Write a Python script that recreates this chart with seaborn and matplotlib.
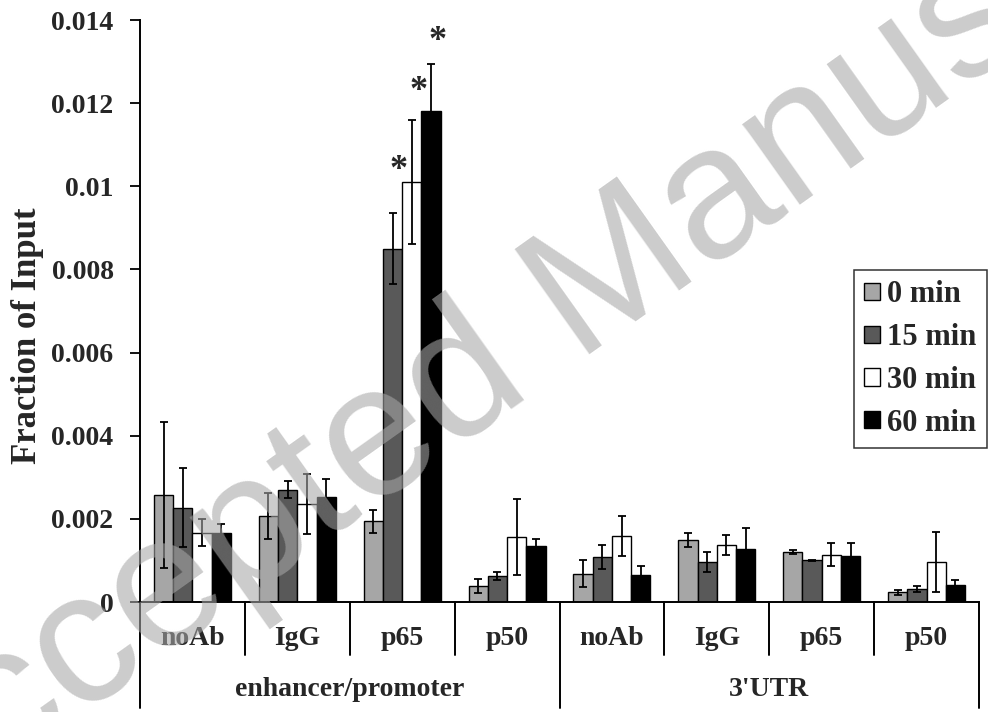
import matplotlib
matplotlib.use("Agg")
import matplotlib.pyplot as plt
import seaborn as sns
import pandas as pd

samples = ["noAb", "IgG", "p65", "p50", "noAb", "IgG", "p65", "p50"]
regions = ["enhancer/promoter"] * 4 + ["3'UTR"] * 4
times = ["0 min", "15 min", "30 min", "60 min"]

min0 = [0.00257, 0.00206, 0.00194, 0.00039, 0.00068, 0.00150, 0.00120, 0.00023]
min0_err = [0.00175, 0.00055, 0.00027, 0.00017, 0.00032, 0.00017, 0.00005, 0.00007]
min15 = [0.00227, 0.00270, 0.00850, 0.00063, 0.00108, 0.00096, 0.00100, 0.00032]
min15_err = [0.00095, 0.00021, 0.00085, 0.00010, 0.00029, 0.00025, 0.00002, 0.00007]
min30 = [0.00167, 0.00236, 0.01010, 0.00156, 0.00159, 0.00138, 0.00114, 0.00096]
min30_err = [0.00033, 0.00072, 0.00150, 0.00092, 0.00048, 0.00024, 0.00028, 0.00073]
min60 = [0.00167, 0.00253, 0.01180, 0.00134, 0.00065, 0.00127, 0.00111, 0.00041]
min60_err = [0.00021, 0.00043, 0.00115, 0.00017, 0.00022, 0.00052, 0.00030, 0.00013]

# significance stars: sample index, time index, height of the star
star_sample = [2, 2, 2]
star_time = [1, 2, 3]
star_y = [0.01037, 0.01227, 0.01348]

colors = ["#a6a6a6", "#595959", "#ffffff", "#000000"]

sns.set_theme(style="white")
plt.rcParams["font.family"] = ["Liberation Serif", "DejaVu Serif"]
plt.rcParams["font.weight"] = "bold"

keys = [r + "|" + s for r, s in zip(regions, samples)]
values = [min0, min15, min30, min60]
errors = [min0_err, min15_err, min30_err, min60_err]
rows = []
for t, vals in zip(times, values):
    for k, v in zip(keys, vals):
        rows.append((k, t, v))
df = pd.DataFrame(rows, columns=["key", "time", "value"])

fig = plt.figure(figsize=(9.88, 7.12), dpi=100)
ax = fig.add_axes([140 / 988, 1 - 602 / 712, 839 / 988, 582 / 712])

sns.barplot(df, x="key", y="value", hue="time", order=keys, hue_order=times,
            palette=colors, edgecolor="black", linewidth=1.0, width=0.735,
            errorbar=None, ax=ax)
bars = list(ax.containers)

for i, cont in enumerate(bars):
    xs = [b.get_x() + b.get_width() / 2 for b in cont]
    hs = [b.get_height() for b in cont]
    ax.errorbar(xs, hs, yerr=errors[i], fmt="none", ecolor="black",
                elinewidth=1.3, capsize=3, capthick=1.3, zorder=5)

for si, ti, sy in zip(star_sample, star_time, star_y):
    b = bars[ti][si]
    x = b.get_x() + b.get_width() / 2
    ax.text(x + 0.06, sy, "*", ha="center", va="center", fontsize=26)

ax.set_xlim(-0.5, 7.5)
ax.set_ylim(0, 0.014)
ax.set_yticks([i * 0.002 for i in range(8)])
ax.set_yticklabels([f"{v:g}" for v in ax.get_yticks()])
ax.tick_params(axis="y", direction="out", length=7, width=1.3, color="black",
               pad=12, labelsize=20, left=True)
ax.set_xticks([])
ax.set_xlabel("")
ax.set_ylabel("Fraction of Input", fontsize=25, fontweight="bold")
ax.yaxis.set_label_coords(-0.115, 0.457)
for s in ["top", "right"]:
    ax.spines[s].set_visible(False)
for s in ["left", "bottom"]:
    ax.spines[s].set_color("black")
    ax.spines[s].set_linewidth(1.4)

# category table below the axis
tr = ax.get_xaxis_transform()
for i, s in enumerate(samples):
    ax.text(i, -0.062, s, transform=tr, ha="center", va="center", fontsize=20)
for j, r in enumerate(["enhancer/promoter", "3'UTR"]):
    ax.text(1.5 + 4 * j, -0.151, r, transform=tr, ha="center", va="center", fontsize=20)
for xb in [0.5, 1.5, 2.5, 4.5, 5.5, 6.5]:
    ax.plot([xb, xb], [0, -0.091], transform=tr, color="black", lw=1.4, clip_on=False)
for xb in [-0.5, 3.5, 7.5]:
    ax.plot([xb, xb], [0, -0.182], transform=tr, color="black", lw=1.4, clip_on=False)

leg = ax.legend(title=None, loc="upper right", bbox_to_anchor=(1.010, 0.571),
                borderaxespad=0, frameon=True, fancybox=False, fontsize=22,
                handlelength=0.5, handleheight=0.5, handletextpad=0.25,
                labelspacing=0.45, borderpad=0.35)
leg.get_frame().set_edgecolor("black")
leg.get_frame().set_linewidth(1.1)
for h in leg.legend_handles:
    h.set_edgecolor("black")

# watermark
fig.text(0.619, 0.524, "Accepted Manuscript", rotation=35.4, rotation_mode="anchor",
         ha="center", va="baseline", fontsize=135, family="Liberation Sans",
         fontweight="normal", color="#a7a7a7", alpha=0.58, zorder=10)

fig.savefig("out.png", dpi=100)
